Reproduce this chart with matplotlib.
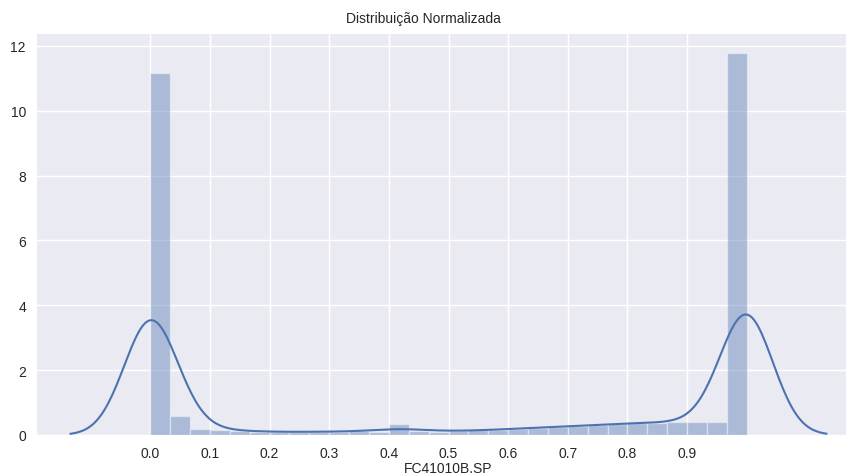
import numpy as np
import matplotlib
matplotlib.use("Agg")
import matplotlib.pyplot as plt

# Normalized values of FC41010B.SP, summarised as 30 equal-width bins on [0, 1]
bin_edges_range = (0.0, 1.0)
n_bins = 30
bin_heights = [
    11.16, 0.58, 0.17, 0.15, 0.13, 0.10, 0.09, 0.09, 0.10, 0.10,
    0.11, 0.10, 0.33, 0.12, 0.10, 0.12, 0.14, 0.16, 0.19, 0.22,
    0.25, 0.28, 0.30, 0.33, 0.36, 0.38, 0.39, 0.40, 0.40, 11.78,
]
x_ticks = [0.0, 0.1, 0.2, 0.3, 0.4, 0.5, 0.6, 0.7, 0.8, 0.9]
y_ticks = [0, 2, 4, 6, 8, 10, 12]
title = "Distribuição Normalizada"
x_label = "FC41010B.SP"

bandwidth = 0.0445
blue = "#4C72B0"

plt.rcParams["font.family"] = ["Liberation Sans", "DejaVu Sans"]
plt.rcParams["text.color"] = "#262626"

edges = np.linspace(bin_edges_range[0], bin_edges_range[1], n_bins + 1)
width = edges[1] - edges[0]
heights = np.asarray(bin_heights)

# Sample locations for the density estimate: the edge bins hold values
# sitting exactly at the min/max of the normalised range.
centers = (edges[:-1] + edges[1:]) / 2
centers[0] = bin_edges_range[0]
centers[-1] = bin_edges_range[1]
weights = heights * width
weights = weights / weights.sum()

grid_x = np.linspace(bin_edges_range[0] - 3 * bandwidth,
                     bin_edges_range[1] + 3 * bandwidth, 400)
kde = (weights[None, :] *
       np.exp(-0.5 * ((grid_x[:, None] - centers[None, :]) / bandwidth) ** 2)
       ).sum(axis=1) / (bandwidth * np.sqrt(2 * np.pi))

fig = plt.figure(figsize=(8.46, 4.77), dpi=100)
ax = fig.add_axes([37 / 846, 41 / 477, 823 / 846, 401 / 477])
ax.set_facecolor("#EAEAF2")
for s in ax.spines.values():
    s.set_visible(False)
ax.grid(True, color="white", linewidth=1.0)
ax.set_axisbelow(True)

ax.bar(edges[:-1], heights, width=width, align="edge", color=blue,
       alpha=0.4, edgecolor="white", linewidth=1.0)
ax.plot(grid_x, kde, color=blue, linewidth=1.5)

ax.set_xlim(-0.19, 1.19)
ax.set_ylim(0, max(bin_heights) * 1.05)
ax.set_xticks(x_ticks)
ax.set_xticklabels([f"{t:.1f}" for t in x_ticks])
ax.set_yticks(y_ticks)
ax.tick_params(length=0, labelsize=10, colors="#262626", pad=8)
ax.set_xlabel(x_label, fontsize=10, color="#262626", labelpad=1)
ax.set_title(title, fontsize=10, color="#262626", pad=9)
ax.title.set_x((846 / 2 - 37) / 823)

fig.savefig("out.png", dpi=100, facecolor="white")
